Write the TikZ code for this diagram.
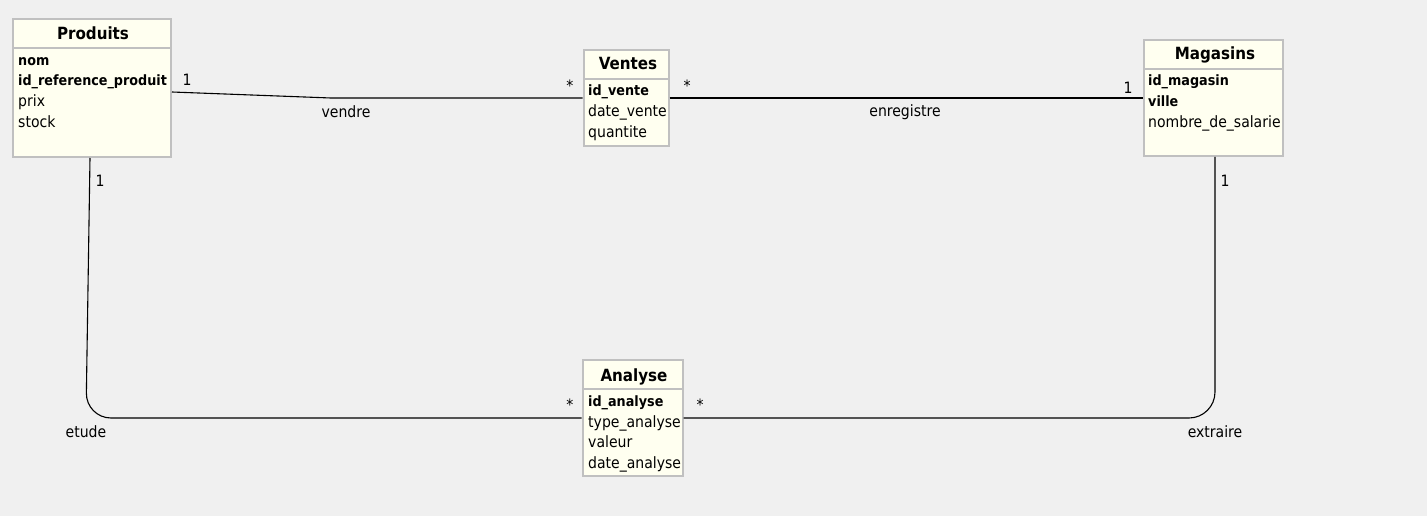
\documentclass[tikz,border=0pt]{standalone}
\usepackage{fontspec}
\setmainfont{DejaVu Sans Condensed}
\definecolor{bg}{HTML}{F0F0F0}
\definecolor{boxfill}{HTML}{FFFFF0}
\definecolor{boxline}{HTML}{C0C0C0}
\begin{document}
\begin{tikzpicture}[x=1pt,y=-1pt,
  cls/.style={draw=boxline,fill=boxfill,line width=2pt,inner sep=0pt,rectangle},
  sepline/.style={draw=boxline,line width=2pt},
  ttl/.style={font=\fontsize{16.8}{18}\selectfont\bfseries,anchor=base,inner sep=0pt},
  keyattr/.style={font=\fontsize{14.2}{16}\selectfont\bfseries,anchor=base west,inner sep=0pt},
  attr/.style={font=\fontsize{15.6}{16}\selectfont,anchor=base west,inner sep=0pt},
  lbl/.style={font=\fontsize{15.6}{16}\selectfont,inner sep=0pt},
  link/.style={draw=black,line width=1.1pt}]
\fill[bg] (0,0) rectangle (1427,516);
\useasboundingbox (0,0) rectangle (1427,516);

% Produits
\node[cls,minimum width=158pt,minimum height=138pt] (prod) at (92,88) {};
\draw[sepline] (13,48) -- (171,48);
\node[ttl] (prodT) at (93,40) {Produits};
\node[keyattr] (p1) at (18,66) {nom};
\node[keyattr] (p2) at (18,86) {id\_reference\_produit};
\node[attr] (p3) at (18,107) {prix};
\node[attr] (p4) at (18,128) {stock};

% Ventes
\node[cls,minimum width=85pt,minimum height=96pt] (ven) at (626,98) {};
\draw[sepline] (584,79) -- (668,79);
\node[ttl] (venT) at (628,70) {Ventes};
\node[keyattr] (v1) at (588,96) {id\_vente};
\node[attr] (v2) at (588,117) {date\_vente};
\node[attr] (v3) at (588,138) {quantite};

% Magasins
\node[cls,minimum width=139pt,minimum height=116pt] (mag) at (1213.5,98) {};
\draw[sepline] (1144,69) -- (1283,69);
\node[ttl] (magT) at (1215,60) {Magasins};
\node[keyattr] (m1) at (1148,86) {id\_magasin};
\node[keyattr] (m2) at (1148,107) {ville};
\node[attr] (m3) at (1148,128) {nombre\_de\_salarie};

% Analyse
\node[cls,minimum width=100pt,minimum height=116pt] (ana) at (632.5,418) {};
\draw[sepline] (583,389) -- (682,389);
\node[ttl] (anaT) at (634,381) {Analyse};
\node[keyattr] (a1) at (588,406) {id\_analyse};
\node[attr] (a2) at (588,427) {type\_analyse};
\node[attr] (a3) at (588,447) {valeur};
\node[attr] (a4) at (588,468) {date\_analyse};

% connectors
\coordinate (bend1) at (331,98);
\coordinate (corner1) at (86,418);
\draw[link] ([yshift=-4pt]prod.east) -- (bend1) -- (ven.west);
\draw[link] (ven.east) -- (mag.west);
\draw[link,rounded corners=25pt] ([xshift=-2pt]prod.south) -- (corner1) -- (ana.west);
\draw[link,rounded corners=26pt] ([xshift=1.5pt]mag.south) -- ([xshift=1.5pt]mag.south |- ana.east) -- (ana.east);

% labels
\node[lbl] (l1) at (187,80) {1};
\node[lbl] (l2) at (570,86) {*};
\node[lbl] (l3) at (346,112) {vendre};
\node[lbl] (l4) at (687,86) {*};
\node[lbl] (l5) at (1128,88) {1};
\node[lbl] (l6) at (905,112) {enregistre};
\node[lbl] (l7) at (100,181) {1};
\node[lbl] (l8) at (1225,181) {1};
\node[lbl] (l9) at (570,405) {*};
\node[lbl] (l10) at (700,405) {*};
\node[lbl] (l11) at (86,432) {etude};
\node[lbl] (l12) at (1215,432) {extraire};
\end{tikzpicture}
\end{document}
